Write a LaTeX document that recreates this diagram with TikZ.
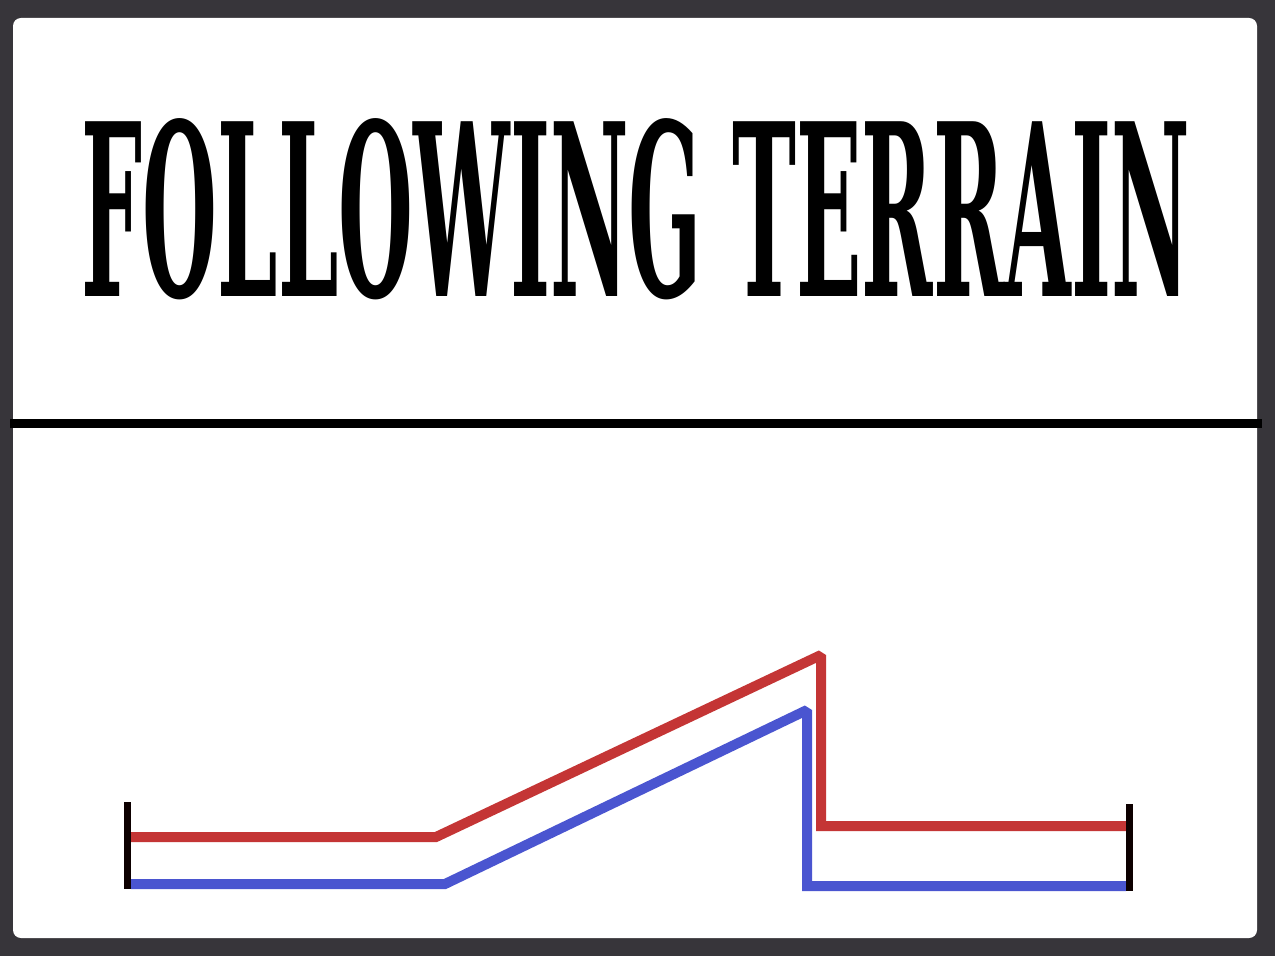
\documentclass[tikz,border=0pt]{standalone}
\usepackage{fontspec}
\usepackage{xcolor}
\newfontfamily\titlefont{DejaVu Serif}
\usetikzlibrary{positioning}

\definecolor{frame}{HTML}{37353A}
\definecolor{redtrack}{HTML}{C43535}
\definecolor{bluetrack}{HTML}{4A55D0}

\begin{document}
\begin{tikzpicture}[
  x=0.02cm, y=-0.02cm,
  track/.style={line width=0.2cm, line join=miter, miter limit=1.5},
  bar/.style={line width=0.14cm, draw=black!95!red}
]
  \fill[frame] (0,0) rectangle (1275,956);
  \fill[white, rounded corners=0.16cm] (13,18) rectangle (1257,938);
  \node[inner sep=0] (title) at (636,209)
    {\resizebox{22.16cm}{3.56cm}{\titlefont\bfseries FOLLOWING TERRAIN}};
  \coordinate (ruleL) at (10,423.5);
  \coordinate (ruleR) at (1262,423.5);
  \draw[line width=0.18cm] (ruleL) -- (ruleR);

  % end bars
  \coordinate (startTop) at (127.5,802);
  \coordinate (startBot) at (127.5,889);
  \coordinate (endTop) at (1129.5,804);
  \coordinate (endBot) at (1129.5,891);

  % red track
  \coordinate (redA) at (131,837);
  \coordinate (redB) at (436,837);
  \coordinate (redC) at (821,655);
  \coordinate (redD) at (821,826);
  \coordinate (redE) at (1126,826);
  \draw[track, redtrack] (redA) -- (redB) -- (redC) -- (redD) -- (redE);

  % blue track
  \coordinate (blueA) at (131,884);
  \coordinate (blueB) at (445,884);
  \coordinate (blueC) at (807,710);
  \coordinate (blueD) at (807,886);
  \coordinate (blueE) at (1126,886);
  \draw[track, bluetrack] (blueA) -- (blueB) -- (blueC) -- (blueD) -- (blueE);

  \draw[bar] (startTop) -- (startBot);
  \draw[bar] (endTop) -- (endBot);
\end{tikzpicture}
\end{document}
